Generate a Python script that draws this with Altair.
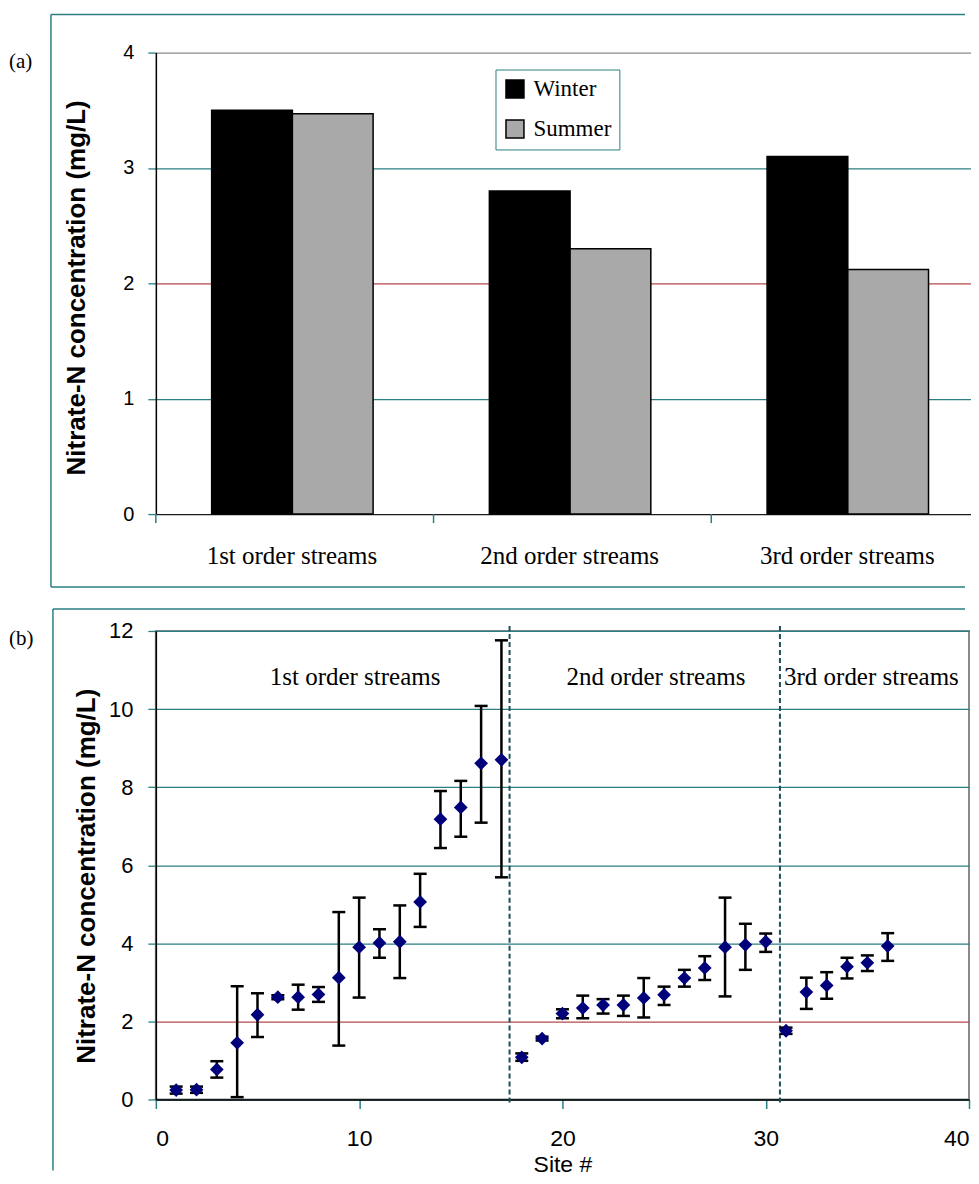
import altair as alt
import pandas as pd

# ---------------- data ----------------
categories = ["1st order streams", "2nd order streams", "3rd order streams"]
seasons = ["Winter", "Summer"]
winter = [3.50, 2.80, 3.10]
summer = [3.47, 2.30, 2.12]

sites = list(range(1, 37))
means = [0.24, 0.25, 0.77, 1.45, 2.17, 2.62, 2.62, 2.69, 3.12, 3.90, 4.01, 4.04, 5.06,
         7.18, 7.48, 8.61, 8.70,
         1.08, 1.56, 2.20, 2.34, 2.42, 2.42, 2.60, 2.68, 3.11, 3.37, 3.90, 3.96, 4.04,
         1.76, 2.75, 2.92, 3.40, 3.50, 3.93]
lows = [0.15, 0.17, 0.56, 0.06, 1.60, 2.57, 2.30, 2.50, 1.38, 2.61, 3.63, 3.11, 4.42,
        6.44, 6.73, 7.09, 5.69,
        0.99, 1.51, 2.08, 2.08, 2.20, 2.14, 2.10, 2.42, 2.89, 3.06, 2.64, 3.32, 3.78,
        1.68, 2.32, 2.58, 3.10, 3.29, 3.55]
highs = [0.33, 0.33, 0.98, 2.90, 2.72, 2.67, 2.94, 2.88, 4.80, 5.17, 4.36, 4.97, 5.78,
         7.90, 8.16, 10.08, 11.76,
         1.18, 1.61, 2.31, 2.66, 2.57, 2.66, 3.11, 2.89, 3.32, 3.67, 5.17, 4.50, 4.25,
         1.84, 3.12, 3.26, 3.63, 3.69, 4.26]

group_label_x = [9.8, 24.6, 35.2]
group_label_y = [10.83, 10.83, 10.83]
dividers = [17.4, 30.7]
panel_labels = ["(a)", "(b)"]

bar_df = pd.DataFrame({
    "cat": categories * 2,
    "season": ["Winter"] * 3 + ["Summer"] * 3,
    "value": winter + summer,
})
cat_df = pd.DataFrame({"cat": categories})
pts_df = pd.DataFrame({"site": sites, "mean": means, "low": lows, "high": highs})
grp_df = pd.DataFrame({"label": categories, "x": group_label_x, "y": group_label_y})
div_df = pd.DataFrame({"d": dividers})

TEAL = "#2b7f82"
RED = "#b5484d"
GRAY = "#8a8a8a"
SERIF = "Liberation Serif"
SANS = "Liberation Sans"

# ---------------- panel (a) ----------------
W_A, H_A = 810, 462
# three 278-px bands starting at the left edge; the last one runs past the visible area
x_scale_a = alt.Scale(domain=categories, range=[0, 834], paddingInner=0, paddingOuter=0)

top_grid = {"condition": [{"test": "datum.value === 0", "value": "#1a1a1a"},
                          {"test": "datum.value === 2", "value": RED},
                          {"test": "datum.value === 4", "value": GRAY}],
            "value": TEAL}

y_axis_a = alt.Axis(values=[0, 1, 2, 3, 4], title="Nitrate-N concentration (mg/L)",
                    titleFont=SANS, titleFontSize=26, titleFontWeight="bold", titleColor="black",
                    titleX=-79, titleY=235, titleAngle=270, titleBaseline="middle",
                    labelFont=SANS, labelFontSize=20, labelColor="black", labelPadding=14,
                    tickSize=8, tickColor=TEAL, tickWidth=1.3,
                    domainColor="black", domainWidth=1.5,
                    grid=True, gridColor=top_grid, gridWidth=1.3)


def xa(bandpos):
    return alt.X("cat:N", sort=categories, scale=x_scale_a, bandPosition=bandpos, axis=None)


bars = alt.Chart(bar_df).mark_bar(stroke="black", strokeWidth=1.5, opacity=1).encode(
    x=alt.X("cat:N", sort=categories, scale=x_scale_a, axis=None),
    xOffset=alt.XOffset("season:N", sort=seasons,
                        scale=alt.Scale(domain=seasons, paddingInner=0, paddingOuter=0.72,
                                        align=0.48)),
    y=alt.Y("value:Q", scale=alt.Scale(domain=[0, 4], nice=False), axis=y_axis_a),
    color=alt.Color("season:N", sort=seasons,
                    scale=alt.Scale(domain=seasons, range=["black", "#a9a9a9"]),
                    legend=alt.Legend(title=None, orient="none", legendX=340, legendY=17,
                                      strokeColor=TEAL, fillColor="white", padding=8,
                                      symbolType="square", symbolSize=324,
                                      symbolStrokeColor="black", symbolStrokeWidth=1.5,
                                      symbolOpacity=1,
                                      labelFont=SERIF, labelFontSize=23, labelColor="black",
                                      labelOffset=7, rowPadding=15)),
)

cat_ticks = alt.Chart(cat_df).mark_rule(color=TEAL, strokeWidth=1.5).encode(
    x=xa(0), y=alt.value(H_A), y2=alt.value(H_A + 9))

cat_labels = alt.Chart(cat_df).mark_text(font=SERIF, fontSize=25, color="black",
                                         baseline="middle").encode(
    x=xa(0.49), y=alt.value(H_A + 42), text="cat:N")

pa_df = pd.DataFrame({"t": [panel_labels[0]]})
label_a = alt.Chart(pa_df).mark_text(align="left", baseline="middle", font=SERIF,
                                     fontSize=21, color="black").encode(
    text="t:N", x=alt.value(-147), y=alt.value(9))

frame_a_top = alt.Chart(pa_df).mark_rule(color=TEAL, strokeWidth=1.5).encode(
    x=alt.value(-105), x2=alt.value(810), y=alt.value(-38))
frame_a_bot = alt.Chart(pa_df).mark_rule(color=TEAL, strokeWidth=1.5).encode(
    x=alt.value(-105), x2=alt.value(810), y=alt.value(535))
frame_a_left = alt.Chart(pa_df).mark_rule(color=TEAL, strokeWidth=1.5).encode(
    x=alt.value(-105), y=alt.value(-38), y2=alt.value(535))

top = alt.layer(bars, cat_ticks, cat_labels, label_a, frame_a_top, frame_a_bot,
                frame_a_left).properties(
    width=W_A, height=H_A, view=alt.ViewBackground(stroke="transparent"))

# ---------------- panel (b) ----------------
W_B, H_B = 814, 469
bot_grid = {"condition": [{"test": "datum.value === 2", "value": RED}], "value": TEAL}

y_axis_b = alt.Axis(values=[0, 2, 4, 6, 8, 10, 12], title="Nitrate-N concentration (mg/L)",
                    titleFont=SANS, titleFontSize=26, titleFontWeight="bold", titleColor="black",
                    titleX=-69, titleY=245, titleAngle=270, titleBaseline="middle",
                    labelFont=SANS, labelFontSize=22, labelColor="black", labelPadding=15,
                    tickSize=8, tickColor=TEAL, tickWidth=1.3,
                    domainColor="black", domainWidth=1.5,
                    grid=True, gridColor=bot_grid, gridWidth=1.3)
x_axis_b = alt.Axis(values=[0, 10, 20, 30, 40], title="Site #", grid=False,
                    titleFont=SANS, titleFontSize=23, titleFontWeight="normal", titleColor="black",
                    titleX=W_B / 2, titleY=65, titleBaseline="middle",
                    labelFont=SANS, labelFontSize=23, labelColor="black", labelPadding=19,
                    tickSize=9, tickColor=TEAL, tickWidth=1.5,
                    domainColor="black", domainWidth=1.5)
y_scale_b = alt.Scale(domain=[0, 12], nice=False)
x_scale_b = alt.Scale(domain=[0, 40], nice=False)


def xb(field):
    return alt.X(field, scale=x_scale_b, axis=x_axis_b)


def yb(field):
    return alt.Y(field, scale=y_scale_b, axis=y_axis_b)


err = alt.Chart(pts_df).mark_rule(color="black", strokeWidth=2.5).encode(
    x=xb("site:Q"), y=yb("low:Q"), y2="high:Q")
cap_lo = alt.Chart(pts_df).mark_tick(orient="horizontal", color="black", thickness=2.5,
                                     size=13, opacity=1).encode(x=xb("site:Q"), y=yb("low:Q"))
cap_hi = alt.Chart(pts_df).mark_tick(orient="horizontal", color="black", thickness=2.5,
                                     size=13, opacity=1).encode(x=xb("site:Q"), y=yb("high:Q"))
pts = alt.Chart(pts_df).mark_point(shape="diamond", filled=True, size=190, color="#00007a",
                                   opacity=1).encode(x=xb("site:Q"), y=yb("mean:Q"))

divs = alt.Chart(div_df).mark_rule(color="#1f4f55", strokeWidth=2, strokeDash=[5, 3]).encode(
    x=xb("d:Q"), y=alt.value(-5), y2=alt.value(H_B + 3))

grp = alt.Chart(grp_df).mark_text(font=SERIF, fontSize=25, color="black",
                                  baseline="middle").encode(
    x=xb("x:Q"), y=yb("y:Q"), text="label:N")

pb_df = pd.DataFrame({"t": [panel_labels[1]]})
label_b = alt.Chart(pb_df).mark_text(align="left", baseline="middle", font=SERIF,
                                     fontSize=21, color="black").encode(
    text="t:N", x=alt.value(-147), y=alt.value(8))
frame_b_top = alt.Chart(pb_df).mark_rule(color=TEAL, strokeWidth=1.5).encode(
    x=alt.value(-103), x2=alt.value(810), y=alt.value(-22))
frame_b_left = alt.Chart(pb_df).mark_rule(color=TEAL, strokeWidth=1.5).encode(
    x=alt.value(-103), y=alt.value(-22), y2=alt.value(540))

bottom = alt.layer(divs, err, cap_lo, cap_hi, pts, grp, label_b, frame_b_top,
                   frame_b_left).properties(
    width=W_B, height=H_B,
    view=alt.ViewBackground(stroke=GRAY, strokeWidth=2))

chart = alt.vconcat(top, bottom, spacing=117, bounds="flush").properties(
    padding={"left": 0, "top": 4, "right": 0, "bottom": 0},
    background="white",
)

chart.save("out.html", embed_options={"renderer": "svg", "actions": False})
